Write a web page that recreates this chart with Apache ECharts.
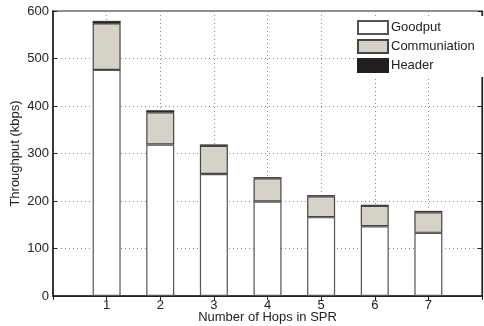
<!DOCTYPE html>
<html>
<head>
<meta charset="utf-8">
<script src="https://cdn.jsdelivr.net/npm/echarts@6/dist/echarts.min.js"></script>
<style>
html, body { margin: 0; padding: 0; background: #fff; }
#main { width: 484px; height: 326px; }
</style>
</head>
<body>
<div id="main"></div>
<script>
"use strict";

// x runs 0..8, bars sit on hops 1..7
var hops = ['0', '1', '2', '3', '4', '5', '6', '7', '8'];
var goodput = [476, 319, 257, 199, 166, 147, 133];
var communiation = [98, 68, 59, 49, 44, 43, 43];
var header = [5, 4, 3, 2, 2, 2, 3];
var yTicks = [0, 100, 200, 300, 400, 500, 600];

function pad(vals) {
	return [null].concat(vals, [null]);
}

var font = 'Liberation Sans, Arial, sans-serif';
var chart = echarts.init(document.getElementById('main'));

var option = {
	animation: false,
	textStyle: { fontFamily: font },
	grid: {
		left: 53, right: 2, top: 11, bottom: 30,
		outerBoundsMode: 'none',
		show: true, borderColor: '#222', borderWidth: 1.2
	},
	legend: {
		orient: 'vertical',
		left: 354, top: 16,
		itemWidth: 30, itemHeight: 13, itemGap: 4,
		padding: [4, 10, 4, 3],
		backgroundColor: '#fff',
		icon: 'rect',
		textStyle: { fontSize: 13, color: '#222', fontFamily: font, padding: [0, 0, 0, -2] },
		data: ['Goodput', 'Communiation', 'Header']
	},
	xAxis: [{
		type: 'category', data: hops, boundaryGap: false,
		name: 'Number of Hops in SPR', nameLocation: 'middle', nameGap: 15,
		nameMoveOverlap: false,
		nameTextStyle: { fontSize: 13, color: '#222', fontFamily: font },
		axisLine: { lineStyle: { color: '#222', width: 1.5 } },
		axisTick: { inside: true, length: 4, lineStyle: { color: '#222' } },
		axisLabel: {
			fontSize: 13, color: '#222', margin: 3, interval: 0,
			formatter: function (v) { return (v === '0' || v === '8') ? '' : v; }
		},
		splitLine: { show: true, interval: 0, lineStyle: { color: '#888', type: [1, 3], width: 1 } }
	}, {
		type: 'category', data: hops, boundaryGap: false, position: 'top',
		axisLine: { show: true, lineStyle: { color: '#222', width: 1.2 } },
		axisTick: { inside: true, length: 4, interval: 0, lineStyle: { color: '#222' } },
		axisLabel: { show: false }, splitLine: { show: false }
	}],
	yAxis: [{
		type: 'value', min: yTicks[0], max: yTicks[yTicks.length - 1], interval: 100,
		name: 'Throughput (kbps)', nameLocation: 'middle', nameGap: 31,
		nameMoveOverlap: false,
		nameTextStyle: { fontSize: 13, color: '#222', fontFamily: font },
		axisLine: { show: true, lineStyle: { color: '#222', width: 1.5 } },
		axisTick: { show: true, inside: true, length: 4, lineStyle: { color: '#222' } },
		axisLabel: { fontSize: 13, color: '#222', margin: 4 },
		splitLine: { show: true, lineStyle: { color: '#888', type: [1, 3], width: 1 } }
	}, {
		type: 'value', min: yTicks[0], max: yTicks[yTicks.length - 1], interval: 100, position: 'right',
		axisLine: { show: true, lineStyle: { color: '#222', width: 1.2 } },
		axisTick: { show: true, inside: true, length: 4, lineStyle: { color: '#222' } },
		axisLabel: { show: false }, splitLine: { show: false }
	}],
	series: [{
		name: 'Goodput', type: 'bar', stack: 'tp', barWidth: 28,
		itemStyle: { color: '#ffffff', borderColor: '#555', borderWidth: 1.2 },
		data: pad(goodput)
	}, {
		name: 'Communiation', type: 'bar', stack: 'tp', barWidth: 28,
		itemStyle: { color: '#d6d2c7', borderColor: '#444', borderWidth: 1.2 },
		data: pad(communiation)
	}, {
		name: 'Header', type: 'bar', stack: 'tp', barWidth: 28,
		itemStyle: { color: '#231f20', borderColor: '#231f20', borderWidth: 0.5 },
		data: pad(header)
	}]
};

chart.setOption(option);
</script>
</body>
</html>
